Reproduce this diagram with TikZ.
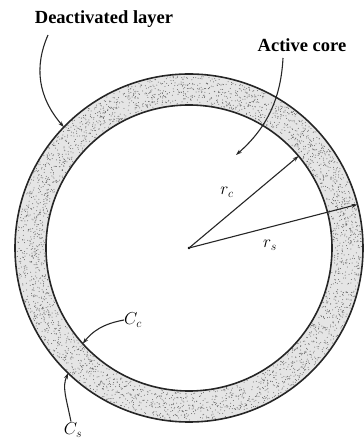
\documentclass[tikz,border=0pt]{standalone}
\usepackage{fontspec}
\setmainfont{Liberation Serif}
\usetikzlibrary{arrows.meta,calc}
\begin{document}
\begin{tikzpicture}[x=1pt,y=1pt,
  rim/.style={line width=1.6pt,black!85},
  lead/.style={line width=1.1pt,black!85,-{Stealth[length=6pt,width=4pt]}},
  lbl/.style={font=\fontsize{18.5}{22}\selectfont\bfseries,inner sep=0pt},
  sym/.style={font=\fontsize{17}{20}\selectfont,inner sep=0pt}]
\useasboundingbox (0,0) rectangle (364,442);
\coordinate (c) at (189,194);
% shaded layer
\fill[gray!20,even odd rule] (c) circle (174pt) (c) circle (143pt);
\pgfmathsetseed{11}
\foreach \i in {1,...,3200}{
  \pgfmathsetmacro\ang{rnd*360}
  \pgfmathsetmacro\rad{10*sqrt(14.45^2+rnd*(17.25^2-14.45^2))}
  \fill[black!60] (c) ++(\ang:\rad pt) circle (0.5pt);
}
\draw[rim] (c) circle (174pt);
\draw[rim] (c) circle (143pt);
% labels
\node[lbl] (dl) at (104,423) {Deactivated layer};
\node[lbl] (ac) at (302,397) {Active core};
\node[sym] (rc) at (227,250) {$r_c$};
\node[sym] (rs) at (270,197) {$r_s$};
\node[sym] (cc) at (133,122) {$C_c$};
\node[sym] (cs) at (73,12) {$C_s$};
% end points
\coordinate (pc) at ($(c)+(40:143pt)$);
\coordinate (ps) at ($(c)+(14.5:174pt)$);
\coordinate (pdl) at ($(c)+(136:174pt)$);
\coordinate (pac) at (236,287);
\coordinate (pcc) at ($(c)+(222:143pt)$);
\coordinate (pcs) at ($(c)+(226:174pt)$);
\coordinate (sdl) at (48,407);
\coordinate (sac) at (283,384);
% radii
\fill (c) circle (1.3pt);
\draw[lead] (c) -- (pc);
\draw[lead] (c) -- (ps);
% leaders
\draw[lead] (sdl) .. controls (34,375) and (38,345) .. (pdl);
\draw[lead] (sac) .. controls (281,345) and (268,315) .. (pac);
\draw[lead] (cc.west) .. controls (102,118) and (92,110) .. (pcc);
\draw[lead] ($(cs.north)+(-2,1)$) .. controls (66,45) and (62,55) .. (pcs);
\end{tikzpicture}
\end{document}
